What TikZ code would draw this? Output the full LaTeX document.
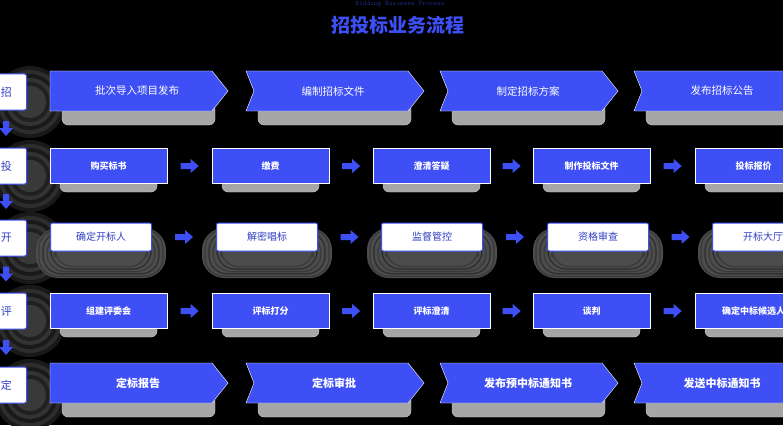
\documentclass[tikz,border=0pt]{standalone}
\usepackage{fontspec}
\setmainfont{Noto Sans CJK SC}
\definecolor{bl}{HTML}{3D4FF5}
\begin{document}
\begin{tikzpicture}[x=1pt,y=-1pt,
 chev/.style={fill=bl,draw=white,line width=0.4pt},
 rbox/.style={fill=bl,draw=white,line width=0.4pt,minimum height=35pt,font=\fontsize{9}{9}\selectfont\bfseries,text=white},
 wbox/.style={fill=white,draw=bl,line width=1pt,rounded corners=2pt,minimum height=28pt,font=\fontsize{10}{10}\selectfont,text=bl!80!black},
 lbox/.style={fill=white,draw=bl,line width=1pt,rounded corners=2pt,minimum width=40pt,minimum height=36pt,font=\fontsize{11}{11}\selectfont,text=bl!80!black},
 shad/.style={fill=gray!70,draw=gray!40,rounded corners=6pt},
 rarr/.style={fill=bl,draw=none},
 ctext/.style={font=\fontsize{10.5}{10.5}\selectfont,text=white}]
\fill[black] (0,0) rectangle (783,425);
\useasboundingbox (0,0) rectangle (783,425);
\node[font=\fontsize{7}{7}\selectfont\ttfamily,text=bl!50!black] (sub) at (400,4) {Bidding Business Process};
\node[font=\fontsize{19}{19}\selectfont\bfseries,text=bl] (title) at (398,25) {招投标业务流程};
% left labels
\foreach \y/\t/\n in {92/招/l1,166/投/l2,238/开/l3,311/评/l4,385/定/l5}{
  \foreach \r/\g in {36/20,32/35,28/20,24/40,20/25,16/45}{\fill[gray!\g!black] (30,\y+10) circle (\r);}
  \node[lbox,anchor=east] (\n) at (27,\y) {\t\hspace{14pt}};
}
\foreach \a/\b in {l1/l2,l2/l3,l3/l4,l4/l5}{
  \path (\a.south) -- (\b.north) coordinate[pos=0.5] (\a d);
  \fill[bl] (6,0 |- \a d) ++(-3,-8) -- ++(6,0) -- ++(0,7) -- ++(4,0) -- ++(-7,8) -- ++(-7,-8) -- ++(4,0) -- cycle;
}
% chevron rows
\foreach \y/\row in {91/1,383/5}{
  \foreach \x/\i in {50/1,246/2,440/3,634/4}{
    \fill[shad] (\x+12,\y+12) rectangle (\x+165,\y+34);
    \ifnum\i=1
      \fill[chev] (\x,\y-20) -- (\x+162,\y-20) -- (\x+178,\y) -- (\x+162,\y+20) -- (\x,\y+20) -- cycle;
    \else
      \fill[chev] (\x,\y-20) -- (\x+162,\y-20) -- (\x+178,\y) -- (\x+162,\y+20) -- (\x,\y+20) -- (\x+8,\y) -- cycle;
    \fi
  }
}
\node[ctext] (c11) at (137,91) {批次导入项目发布};
\node[ctext] (c12) at (333,91) {编制招标文件};
\node[ctext] (c13) at (528,91) {制定招标方案};
\node[ctext] (c14) at (722,91) {发布招标公告};
\node[ctext,font=\fontsize{11}{11}\selectfont\bfseries] (c51) at (138,383) {定标报告};
\node[ctext,font=\fontsize{11}{11}\selectfont\bfseries] (c52) at (334,383) {定标审批};
\node[ctext,font=\fontsize{11}{11}\selectfont\bfseries] (c53) at (528,383) {发布预中标通知书};
\node[ctext,font=\fontsize{11}{11}\selectfont\bfseries] (c54) at (722,383) {发送中标通知书};
% rect rows
\foreach \y/\r/\ta/\tb/\tc/\td/\te in {166/2/购买标书/缴费/澄清答疑/制作投标文件/投标报价,311/4/组建评委会/评标打分/评标澄清/谈判/确定中标候选人}{
  \foreach \x/\i/\t in {50/1/\ta,212/2/\tb,373/3/\tc,533/4/\td,695/5/\te}{
    \fill[shad] (\x+10,\y+10) rectangle (\x+107,\y+26);
    \node[rbox,minimum width=117pt,anchor=west] (r\r\i) at (\x,\y) {\t};
  }
  \foreach \i/\j in {1/2,2/3,3/4,4/5}{
    \path (r\r\i.east) -- (r\r\j.west) coordinate[pos=0.5] (a\r\i);
    \fill[rarr] (a\r\i) ++(-9,-3) -- ++(10,0) -- ++(0,-4) -- ++(8,7) -- ++(-8,7) -- ++(0,-4) -- ++(-10,0) -- cycle;
  }
}
% open row
\foreach \x/\i/\t in {50/1/确定开标人,216/2/解密唱标,381/3/监督管控,547/4/资格审查,712/5/开标大厅}{
  \fill[rounded corners=22pt,gray!60!black] (\x-14,228) rectangle (\x+116,278);
  \foreach \s/\g in {3/45,7/35,11/45,15/35,19/45}{\draw[gray!\g!black,line width=1.2pt,rounded corners=18pt] ({\x-14+\s},{228+\s*0.6}) rectangle ({\x+116-\s},{278-\s*0.6});}
  \node[wbox,minimum width=101pt,anchor=west] (w\i) at (\x,237) {\t};
}
\foreach \i/\j in {1/2,2/3,3/4,4/5}{
  \path (w\i.east) -- (w\j.west) coordinate[pos=0.5] (b\i);
  \fill[rarr] (b\i) ++(-9,-3) -- ++(10,0) -- ++(0,-4) -- ++(8,7) -- ++(-8,7) -- ++(0,-4) -- ++(-10,0) -- cycle;
}
\end{tikzpicture}
\end{document}
